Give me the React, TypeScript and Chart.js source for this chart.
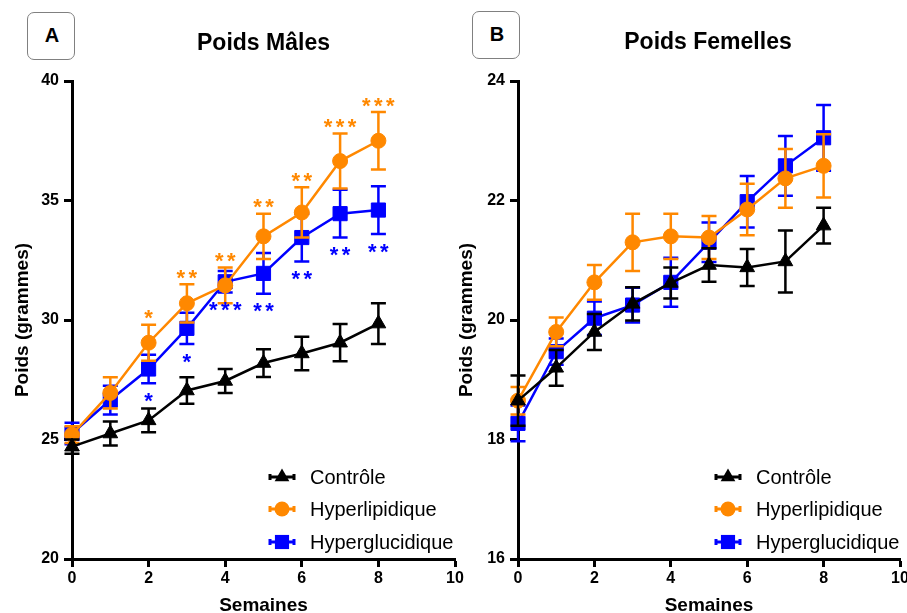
import React, { useEffect, useRef } from "react";
import { Chart, registerables } from "chart.js";

Chart.register(...registerables);

// ---------- Data ----------
const weeks = [0, 1, 2, 3, 4, 5, 6, 7, 8];
const seriesLabels = ["Contrôle", "Hyperlipidique", "Hyperglucidique"];

// Panel A : males
const maleCtrl = [24.7, 25.25, 25.8, 27.05, 27.45, 28.2, 28.6, 29.05, 29.85];
const maleCtrlErr = [0.3, 0.5, 0.5, 0.55, 0.5, 0.58, 0.7, 0.78, 0.85];
const maleLipid = [25.2, 26.95, 29.05, 30.7, 31.45, 33.5, 34.5, 36.65, 37.5];
const maleLipidErr = [0.35, 0.65, 0.75, 0.8, 0.75, 0.95, 1.05, 1.15, 1.2];
const maleGluc = [25.25, 26.65, 27.95, 29.65, 31.6, 31.95, 33.45, 34.45, 34.6];
const maleGlucErr = [0.45, 0.6, 0.6, 0.65, 0.45, 0.85, 1.0, 1.0, 1.0];
const maleLipidStars = ["", "", "*", "**", "**", "**", "**", "***", "***"];
const maleGlucStars = ["", "", "*", "*", "***", "**", "**", "**", "**"];

// Panel B : females
const femCtrl = [18.65, 19.2, 19.8, 20.27, 20.62, 20.92, 20.88, 20.98, 21.58];
const femCtrlErr = [0.42, 0.3, 0.3, 0.28, 0.26, 0.28, 0.31, 0.52, 0.3];
const femLipid = [18.65, 19.8, 20.63, 21.3, 21.4, 21.38, 21.85, 22.37, 22.58];
const femLipidErr = [0.23, 0.24, 0.29, 0.48, 0.38, 0.36, 0.43, 0.49, 0.53];
const femGluc = [18.27, 19.47, 20.03, 20.25, 20.63, 21.3, 21.98, 22.58, 23.05];
const femGlucErr = [0.3, 0.22, 0.28, 0.29, 0.41, 0.33, 0.43, 0.5, 0.55];

// Axis tick settings
const maleYTicks = { min: 20, max: 40, step: 5 };
const femYTicks = { min: 16, max: 24, step: 2 };
const xTicks = { min: 0, max: 10, step: 2 };

// ---------- Styles ----------
const FONT = '"Liberation Sans", Arial, Helvetica, sans-serif';
const BLACK = "#000000";
const ORANGE = "#FF8800";
const BLUE = "#0000FF";
const colors = [BLACK, ORANGE, BLUE];
const styles = ["triangle", "circle", "rect"];
const radii = [8.5, 7.5, 10];

function drawMarker(ctx: CanvasRenderingContext2D, style: string, x: number, y: number, r: number, color: string) {
  ctx.fillStyle = color;
  ctx.beginPath();
  if (style === "circle") {
    ctx.arc(x, y, r, 0, Math.PI * 2);
  } else if (style === "rect") {
    const s = r * Math.SQRT1_2;
    ctx.rect(x - s, y - s, 2 * s, 2 * s);
  } else {
    let a = 0;
    ctx.moveTo(x + Math.sin(a) * r, y - Math.cos(a) * r);
    a += (2 * Math.PI) / 3;
    ctx.lineTo(x + Math.sin(a) * r, y - Math.cos(a) * r);
    a += (2 * Math.PI) / 3;
    ctx.lineTo(x + Math.sin(a) * r, y - Math.cos(a) * r);
    ctx.closePath();
  }
  ctx.fill();
}

const errorBarPlugin = {
  id: "errorBars",
  beforeDatasetDraw(chart: any, args: any) {
    const ds = chart.data.datasets[args.index];
    const errs: number[] = ds.errors;
    if (!errs) return;
    const ys = chart.scales.y;
    const ctx = chart.ctx;
    ctx.save();
    ctx.strokeStyle = ds.borderColor;
    ctx.lineWidth = 2.5;
    args.meta.data.forEach((pt: any, i: number) => {
      const v = ds.data[i].y;
      const e = errs[i];
      const yt = ys.getPixelForValue(v + e);
      const yb = ys.getPixelForValue(v - e);
      ctx.beginPath();
      ctx.moveTo(pt.x, yt);
      ctx.lineTo(pt.x, yb);
      ctx.moveTo(pt.x - 7.5, yt);
      ctx.lineTo(pt.x + 7.5, yt);
      ctx.moveTo(pt.x - 7.5, yb);
      ctx.lineTo(pt.x + 7.5, yb);
      ctx.stroke();
    });
    ctx.restore();
  },
};

const starsPlugin = {
  id: "stars",
  afterDatasetsDraw(chart: any) {
    const ctx = chart.ctx;
    const ys = chart.scales.y;
    const xs = chart.scales.x;
    chart.data.datasets.forEach((ds: any) => {
      if (!ds.stars) return;
      ctx.save();
      ctx.fillStyle = ds.borderColor;
      ctx.font = `bold 22px ${FONT}`;
      ctx.textAlign = "center";
      ctx.textBaseline = "alphabetic";
      ds.stars.forEach((s: string, i: number) => {
        if (!s) return;
        const v = ds.data[i].y;
        const e = ds.errors[i];
        const x = xs.getPixelForValue(ds.data[i].x);
        const cy = ds.starSide === "up" ? ys.getPixelForValue(v + e) - 12 : ys.getPixelForValue(v - e) + 12;
        const n = s.length;
        for (let k = 0; k < n; k++) {
          const sx = x + (k - (n - 1) / 2) * 12;
          ctx.fillText("*", sx, cy + 12.7);
        }
      });
      ctx.restore();
    });
  },
};

const legendPlugin = {
  id: "customLegend",
  afterDraw(chart: any) {
    const ctx = chart.ctx;
    const area = chart.chartArea;
    const rows = [-82, -50, -17];
    chart.data.datasets.forEach((ds: any, i: number) => {
      const y = area.bottom + rows[i];
      const cx = area.left + 210;
      ctx.save();
      ctx.strokeStyle = ds.borderColor;
      ctx.lineWidth = 3;
      ctx.beginPath();
      ctx.moveTo(cx - 13, y);
      ctx.lineTo(cx + 13, y);
      ctx.moveTo(cx - 12, y - 3);
      ctx.lineTo(cx - 12, y + 3);
      ctx.moveTo(cx + 12, y - 3);
      ctx.lineTo(cx + 12, y + 3);
      ctx.stroke();
      drawMarker(ctx, ds.pointStyle, cx, y, ds.pointRadius, ds.borderColor);
      ctx.fillStyle = "#000";
      ctx.font = `20px ${FONT}`;
      ctx.textAlign = "left";
      ctx.textBaseline = "middle";
      ctx.fillText(ds.label, area.left + 238, y + 1);
      ctx.restore();
    });
  },
};

type PanelProps = {
  left: number;
  width: number;
  yWidth: number;
  padRight: number;
  yTitlePad: number;
  yTicks: { min: number; max: number; step: number };
  values: number[][];
  errors: number[][];
  stars: (string[] | null)[];
  starSides: string[];
};

function Panel(p: PanelProps) {
  const ref = useRef<HTMLCanvasElement | null>(null);
  useEffect(() => {
    if (!ref.current) return;
    const datasets = seriesLabels.map((label, i) => ({
      label,
      data: weeks.map((w, k) => ({ x: w, y: p.values[i][k] })),
      errors: p.errors[i],
      stars: p.stars[i],
      starSide: p.starSides[i],
      borderColor: colors[i],
      backgroundColor: colors[i],
      pointBackgroundColor: colors[i],
      pointBorderColor: colors[i],
      pointStyle: styles[i],
      pointRadius: radii[i],
      pointBorderWidth: 1,
      borderWidth: 2.5,
      fill: false,
      tension: 0,
      clip: false,
    }));
    const tickFont = { family: FONT, size: 16, weight: "bold" as const };
    const titleFont = { family: FONT, size: 19, weight: "bold" as const, lineHeight: 1.2 };
    const chart = new Chart(ref.current, {
      type: "line",
      data: { datasets: datasets as any },
      plugins: [errorBarPlugin, starsPlugin, legendPlugin],
      options: {
        animation: false,
        responsive: false,
        devicePixelRatio: 1,
        layout: { padding: { left: 0, right: p.padRight, top: 81, bottom: 0 } },
        plugins: { legend: { display: false }, tooltip: { enabled: false }, title: { display: false } },
        scales: {
          x: {
            type: "linear",
            min: xTicks.min,
            max: xTicks.max,
            ticks: { stepSize: xTicks.step, color: "#000", font: tickFont, padding: 2, maxRotation: 0 },
            grid: { display: true, drawOnChartArea: false, drawTicks: true, tickLength: 8, tickWidth: 3, tickColor: "#000" },
            border: { display: true, color: "#000", width: 3 },
            title: { display: true, text: "Semaines", color: "#000", font: titleFont, padding: { top: 0, bottom: 3 } },
            afterFit: (s: any) => {
              s.height = 61;
            },
          },
          y: {
            type: "linear",
            min: p.yTicks.min,
            max: p.yTicks.max,
            ticks: { stepSize: p.yTicks.step, color: "#000", font: tickFont, padding: 5 },
            grid: { display: true, drawOnChartArea: false, drawTicks: true, tickLength: 8, tickWidth: 3, tickColor: "#000" },
            border: { display: true, color: "#000", width: 3 },
            title: { display: true, text: "Poids (grammes)", color: "#000", font: titleFont, padding: { top: p.yTitlePad, bottom: 0 } },
            afterFit: (s: any) => {
              s.width = p.yWidth;
            },
          },
        },
      } as any,
    });
    return () => chart.destroy();
  }, []);
  return (
    <canvas
      ref={ref}
      width={p.width}
      height={620}
      style={{ position: "absolute", left: p.left, top: 0, width: p.width, height: 620 }}
    />
  );
}

function CenterText(props: { x: number; y: number; size: number; text: string; bold?: boolean }) {
  return (
    <div
      style={{
        position: "absolute",
        left: props.x,
        top: props.y,
        transform: "translate(-50%, -50%)",
        fontFamily: FONT,
        fontSize: props.size,
        fontWeight: props.bold ? "bold" : "normal",
        lineHeight: "1",
        whiteSpace: "nowrap",
        color: "#000",
      }}
    >
      {props.text}
    </div>
  );
}

function LetterBox(props: { x: number; y: number; text: string }) {
  return (
    <div
      style={{
        position: "absolute",
        left: props.x,
        top: props.y,
        width: 46,
        height: 46,
        border: "1px solid #808080",
        borderRadius: 7,
        background: "#fff",
      }}
    >
      <CenterText x={24} y={22} size={20} text={props.text} bold />
    </div>
  );
}

export default function App() {
  return (
    <div
      style={{
        position: "absolute",
        left: 0,
        top: 0,
        width: 907,
        height: 613,
        overflow: "hidden",
        background: "#fff",
      }}
    >
      <Panel
        left={0}
        width={480}
        yWidth={72}
        padRight={25}
        yTitlePad={11}
        yTicks={maleYTicks}
        values={[maleCtrl, maleLipid, maleGluc]}
        errors={[maleCtrlErr, maleLipidErr, maleGlucErr]}
        stars={[null, maleLipidStars, maleGlucStars]}
        starSides={["", "up", "down"]}
      />
      <Panel
        left={447}
        width={480}
        yWidth={71}
        padRight={27}
        yTitlePad={8}
        yTicks={femYTicks}
        values={[femCtrl, femLipid, femGluc]}
        errors={[femCtrlErr, femLipidErr, femGlucErr]}
        stars={[null, null, null]}
        starSides={["", "", ""]}
      />
      <LetterBox x={27} y={12} text="A" />
      <LetterBox x={472} y={11} text="B" />
      <CenterText x={263.5} y={42} size={23} text="Poids Mâles" bold />
      <CenterText x={708} y={41} size={23} text="Poids Femelles" bold />
    </div>
  );
}
